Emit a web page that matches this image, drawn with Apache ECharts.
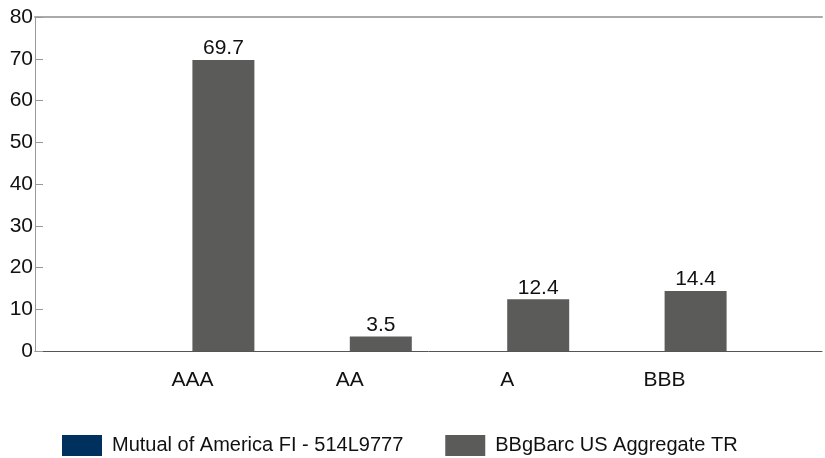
<!DOCTYPE html>
<html>
<head>
<meta charset="utf-8">
<script src="https://cdn.jsdelivr.net/npm/echarts@6/dist/echarts.min.js"></script>
<style>html,body{margin:0;padding:0;background:#fff}#c{width:825px;height:458px}</style>
</head>
<body>
<div id="c"></div>
<script>
const categories = ['AAA', 'AA', 'A', 'BBB'];
const seriesNames = ['Mutual of America FI - 514L9777', 'BBgBarc US Aggregate TR'];
const fundValues = [null, null, null, null];
const benchValues = [69.7, 3.5, 12.4, 14.4];
const yTicks = [0, 10, 20, 30, 40, 50, 60, 70, 80];

const FONT = "'Liberation Sans', Arial, sans-serif";
const axisData = [''].concat(categories, ['']);
const pad = arr => [null].concat(arr, [null]);

const chart = echarts.init(document.getElementById('c'), null, {renderer: 'canvas'});
chart.setOption({
  animation: false,
  textStyle: {fontFamily: FONT},
  grid: {left: 35, right: 0, top: 17, bottom: 107, containLabel: false},
  legend: {
    left: 57, top: 430,
    itemWidth: 40, itemHeight: 21, itemGap: 42,
    icon: 'rect',
    textStyle: {fontSize: 20, color: '#111', fontFamily: FONT, padding: [0, 0, 0, 5]},
    data: seriesNames
  },
  xAxis: [{
    type: 'category',
    data: axisData,
    boundaryGap: false,
    axisLine: {lineStyle: {color: '#555', width: 1}},
    axisTick: {show: false},
    axisLabel: {fontSize: 21, color: '#111', margin: 19, fontFamily: FONT, interval: 0},
    splitLine: {show: false}
  }, {
    type: 'category',
    position: 'top',
    data: axisData,
    boundaryGap: false,
    axisLine: {lineStyle: {color: '#aaa', width: 2}},
    axisTick: {show: false},
    axisLabel: {show: false},
    splitLine: {show: false}
  }],
  yAxis: {
    type: 'value',
    min: yTicks[0], max: yTicks[yTicks.length - 1], interval: 10,
    axisLine: {show: true, lineStyle: {color: '#999', width: 1}},
    axisTick: {show: true, inside: true, length: 8, lineStyle: {color: '#999'}},
    axisLabel: {fontSize: 21, color: '#111', margin: 2, fontFamily: FONT},
    splitLine: {show: false}
  },
  series: [{
    name: seriesNames[0],
    type: 'bar',
    data: pad(fundValues),
    barWidth: 62,
    barGap: '0%',
    itemStyle: {color: '#00305e'}
  }, {
    name: seriesNames[1],
    type: 'bar',
    data: pad(benchValues),
    barWidth: 62,
    barGap: '0%',
    itemStyle: {color: '#5b5c5a'},
    label: {show: true, position: 'top', distance: 1, fontSize: 21, color: '#111', fontFamily: FONT}
  }]
});
</script>
</body>
</html>
